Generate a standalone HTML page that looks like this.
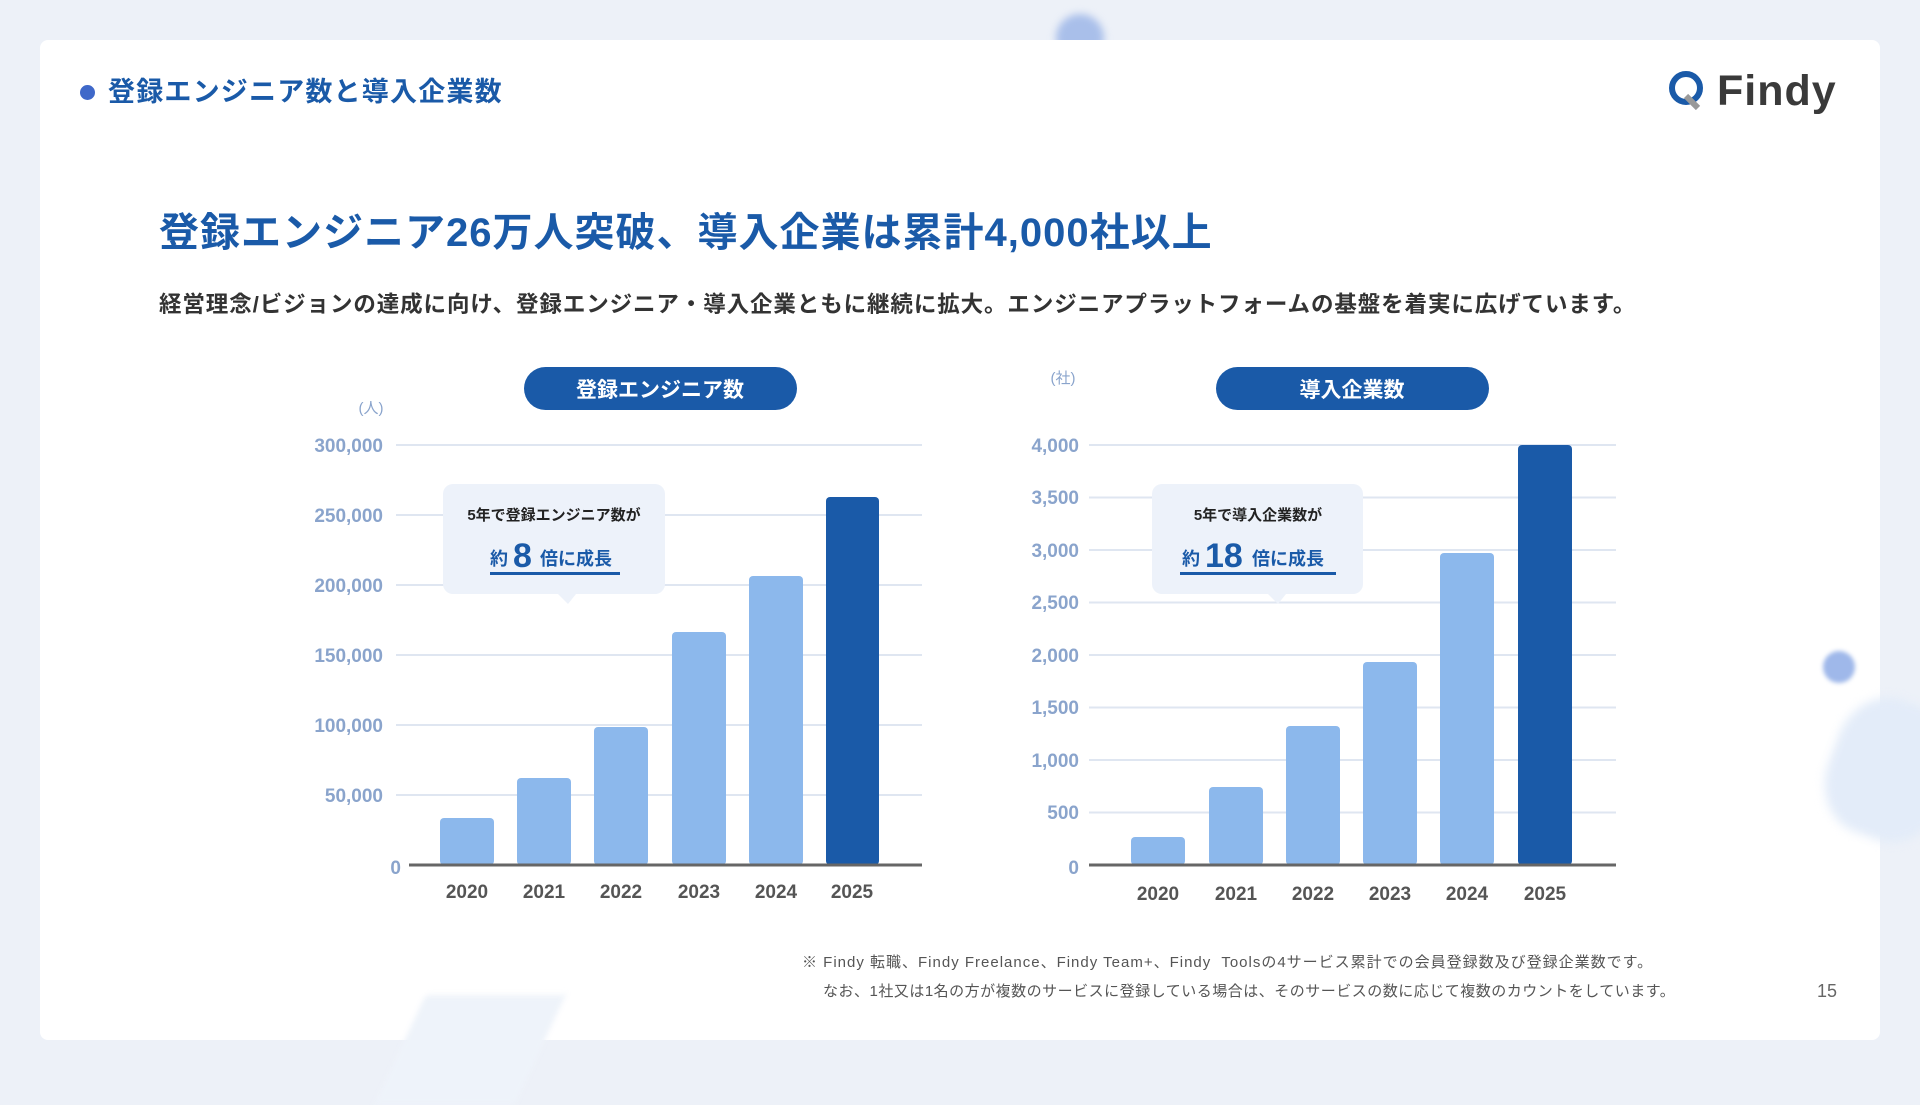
<!DOCTYPE html>
<html><head><meta charset="utf-8"><style>
*{margin:0;padding:0;box-sizing:border-box}
body{width:1920px;height:1080px;background:#edf1f8;position:relative;overflow:hidden;font-family:"Liberation Sans","Noto Sans CJK JP",sans-serif}
.card{position:absolute;left:40px;top:40px;width:1840px;height:1000px;background:#fff;border-radius:8px}
.abs{position:absolute;white-space:nowrap}
</style></head><body>
<div class="abs" style="left:1056px;top:14px;width:48px;height:48px;border-radius:50%;background:#a9bfea;filter:blur(4px)"></div>
<div class="card"></div>
<div class="abs" style="left:1823px;top:651px;width:32px;height:32px;border-radius:50%;background:#9fb8ea;filter:blur(2px)"></div>
<div class="abs" style="left:1830px;top:700px;width:120px;height:140px;border-radius:40%;background:#e3ecf9;filter:blur(5px);transform:rotate(20deg)"></div>
<div class="abs" style="left:400px;top:995px;width:140px;height:110px;background:#eef3fa;transform:skewX(-25deg);filter:blur(3px)"></div>

<div class="abs" style="left:80px;top:85px;width:15px;height:15px;border-radius:50%;background:#3f68c9"></div>
<div class="abs" style="left:108px;top:74px;font-size:27px;font-weight:bold;color:#1a5aa8;line-height:36px;letter-spacing:1.2px">登録エンジニア数と導入企業数</div>
<div class="abs" style="left:1668px;top:68px;width:38px;height:42px;">
<svg width="38" height="42" viewBox="0 0 38 42"><circle cx="18" cy="20" r="14" fill="none" stroke="#1a5aa8" stroke-width="6"/><path d="M18 28 L30 40" stroke="#999" stroke-width="6"/></svg></div>
<div class="abs" style="left:1717px;top:66px;font-size:43px;font-weight:bold;color:#3a3a3a;line-height:50px;letter-spacing:1px">Findy</div>

<div class="abs" style="left:159px;top:208px;font-size:40px;font-weight:bold;color:#1a5aa8;line-height:50px;letter-spacing:1px">登録エンジニア26万人突破、導入企業は累計4,000社以上</div>
<div class="abs" style="left:159px;top:290px;font-size:22.5px;font-weight:bold;color:#333;line-height:30px;letter-spacing:0.9px">経営理念/ビジョンの達成に向け、登録エンジニア・導入企業ともに継続に拡大。エンジニアプラットフォームの基盤を着実に広げています。</div>

<svg class="abs" style="left:0;top:0" width="1920" height="1080" font-family="Liberation Sans, Noto Sans CJK JP, sans-serif" font-weight="bold">
<rect x="524" y="367" width="273" height="43" rx="21.5" fill="#1a5aa8"/>
<text x="660" y="397" font-size="21" fill="#fff" text-anchor="middle">登録エンジニア数</text>
<text x="371" y="413" font-size="15" fill="#8aa4cc" text-anchor="middle" font-weight="normal">(人)</text>
<g stroke="#dfe6f1" stroke-width="2">
<line x1="396" x2="922" y1="445" y2="445"/><line x1="396" x2="922" y1="515" y2="515"/><line x1="396" x2="922" y1="585" y2="585"/><line x1="396" x2="922" y1="655" y2="655"/><line x1="396" x2="922" y1="725" y2="725"/><line x1="396" x2="922" y1="795" y2="795"/>
</g>
<g font-size="19" fill="#8aa4cc" text-anchor="end">
<text x="383" y="452">300,000</text><text x="383" y="522">250,000</text><text x="383" y="592">200,000</text><text x="383" y="662">150,000</text><text x="383" y="732">100,000</text><text x="383" y="802">50,000</text><text x="401" y="874">0</text>
</g>
<g fill="#8cb8ec">
<rect x="440" y="818" width="54" height="47" rx="4"/><rect x="517" y="778" width="54" height="87" rx="4"/><rect x="594" y="727" width="54" height="138" rx="4"/><rect x="672" y="632" width="54" height="233" rx="4"/><rect x="749" y="576" width="54" height="289" rx="4"/>
</g>
<rect x="826" y="497" width="53" height="368" rx="4" fill="#1a5aa8"/>
<line x1="409" x2="922" y1="865" y2="865" stroke="#666" stroke-width="3"/>
<g font-size="19" fill="#555" text-anchor="middle">
<text x="467" y="898">2020</text><text x="544" y="898">2021</text><text x="621" y="898">2022</text><text x="699" y="898">2023</text><text x="776" y="898">2024</text><text x="852" y="898">2025</text>
</g>
<rect x="443" y="484" width="222" height="110" rx="10" fill="#edf2fa"/>
<path d="M558 594 L568 604 L576 594 Z" fill="#edf2fa"/>
<text x="554" y="520" font-size="15" fill="#222" text-anchor="middle">5年で登録エンジニア数が</text>
<text x="490" y="565" font-size="18" fill="#1a5aa8">約</text>
<text x="513" y="567" font-size="34" fill="#1a5aa8">8</text>
<text x="540" y="565" font-size="18" fill="#1a5aa8">倍に成長</text>
<rect x="490" y="572" width="130" height="3" fill="#1a5aa8"/>

<rect x="1216" y="367" width="273" height="43" rx="21.5" fill="#1a5aa8"/>
<text x="1352" y="397" font-size="21" fill="#fff" text-anchor="middle">導入企業数</text>
<text x="1063" y="383" font-size="15" fill="#8aa4cc" text-anchor="middle" font-weight="normal">(社)</text>
<g stroke="#dfe6f1" stroke-width="2">
<line x1="1089" x2="1616" y1="445" y2="445"/><line x1="1089" x2="1616" y1="497.5" y2="497.5"/><line x1="1089" x2="1616" y1="550" y2="550"/><line x1="1089" x2="1616" y1="602.5" y2="602.5"/><line x1="1089" x2="1616" y1="655" y2="655"/><line x1="1089" x2="1616" y1="707.5" y2="707.5"/><line x1="1089" x2="1616" y1="760" y2="760"/><line x1="1089" x2="1616" y1="812.5" y2="812.5"/>
</g>
<g font-size="19" fill="#8aa4cc" text-anchor="end">
<text x="1079" y="452">4,000</text><text x="1079" y="504">3,500</text><text x="1079" y="557">3,000</text><text x="1079" y="609">2,500</text><text x="1079" y="662">2,000</text><text x="1079" y="714">1,500</text><text x="1079" y="767">1,000</text><text x="1079" y="819">500</text><text x="1079" y="874">0</text>
</g>
<g fill="#8cb8ec">
<rect x="1131" y="837" width="54" height="28" rx="4"/><rect x="1209" y="787" width="54" height="78" rx="4"/><rect x="1286" y="726" width="54" height="139" rx="4"/><rect x="1363" y="662" width="54" height="203" rx="4"/><rect x="1440" y="553" width="54" height="312" rx="4"/>
</g>
<rect x="1518" y="445" width="54" height="420" rx="4" fill="#1a5aa8"/>
<line x1="1089" x2="1616" y1="865" y2="865" stroke="#666" stroke-width="3"/>
<g font-size="19" fill="#555" text-anchor="middle">
<text x="1158" y="900">2020</text><text x="1236" y="900">2021</text><text x="1313" y="900">2022</text><text x="1390" y="900">2023</text><text x="1467" y="900">2024</text><text x="1545" y="900">2025</text>
</g>
<rect x="1152" y="484" width="211" height="110" rx="10" fill="#edf2fa"/>
<path d="M1268 594 L1278 604 L1286 594 Z" fill="#edf2fa"/>
<text x="1258" y="520" font-size="15" fill="#222" text-anchor="middle">5年で導入企業数が</text>
<text x="1182" y="565" font-size="18" fill="#1a5aa8">約</text>
<text x="1205" y="567" font-size="34" fill="#1a5aa8">18</text>
<text x="1252" y="565" font-size="18" fill="#1a5aa8">倍に成長</text>
<rect x="1180" y="572" width="156" height="3" fill="#1a5aa8"/>
</svg>

<div class="abs" style="left:802px;top:953px;font-size:15px;color:#555;line-height:20px;letter-spacing:1px">※ Findy 転職、Findy Freelance、Findy Team+、Findy&nbsp; Toolsの4サービス累計での会員登録数及び登録企業数です。</div>
<div class="abs" style="left:823px;top:982px;font-size:15px;color:#555;line-height:20px;letter-spacing:0.5px">なお、1社又は1名の方が複数のサービスに登録している場合は、そのサービスの数に応じて複数のカウントをしています。</div>
<div class="abs" style="left:1817px;top:980px;font-size:18px;color:#666;line-height:22px">15</div>
</body></html>
